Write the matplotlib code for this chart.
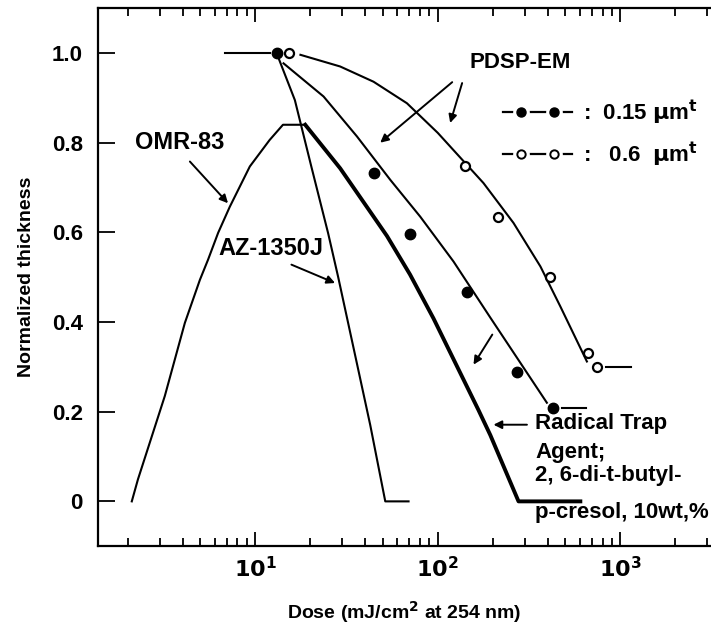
import matplotlib
matplotlib.use("Agg")
import matplotlib.pyplot as plt
from matplotlib.lines import Line2D
from matplotlib.legend_handler import HandlerLine2D, HandlerTuple
from matplotlib.ticker import LogLocator, NullFormatter, FixedLocator

plt.rcParams['font.family'] = ['Liberation Sans', 'DejaVu Sans']
plt.rcParams['font.weight'] = 'bold'
plt.rcParams['mathtext.default'] = 'bf'

# PDSP-EM 0.15 um (filled points + fitted curve)
thin_pts_x = [13.1, 44.5, 70.6, 144.5, 272, 428]
thin_pts_y = [1.0, 0.733, 0.597, 0.468, 0.288, 0.209]
thin_curve_x = [14.3, 23.7, 36.1, 55.0, 80.2, 122, 194, 396]
thin_curve_y = [0.977, 0.903, 0.814, 0.717, 0.635, 0.535, 0.410, 0.220]
thin_tail_x = [481, 651]
thin_tail_y = [0.209, 0.209]

# PDSP-EM 0.6 um (open points + fitted curve)
thick_pts_x = [15.4, 141.6, 215, 413, 662, 745]
thick_pts_y = [1.0, 0.748, 0.634, 0.50, 0.331, 0.30]
thick_curve_x = [17.7, 29.2, 44.5, 67.8, 100, 178, 260, 365, 469, 656]
thick_curve_y = [0.996, 0.97, 0.936, 0.888, 0.822, 0.710, 0.621, 0.524, 0.435, 0.312]
thick_tail_x = [830, 1150]
thick_tail_y = [0.30, 0.30]

# flat lead-in at 1.0
lead_x = [6.85, 12.1]
lead_y = [1.0, 1.0]

# AZ-1350J
az_x = [13.1, 16.5, 20.3, 25.1, 28.5, 36.6, 42.7, 51.6, 69.2]
az_y = [1.0, 0.895, 0.747, 0.598, 0.50, 0.296, 0.17, 0.0, 0.0]

# OMR-83
omr_x = [2.11, 2.28, 3.20, 4.12, 4.98, 5.52, 6.27, 7.26, 9.35, 12.0, 14.2, 18.8]
omr_y = [0.0, 0.049, 0.235, 0.398, 0.494, 0.539, 0.599, 0.657, 0.747, 0.806, 0.84, 0.84]

# OMR-83 + radical trap agent
rad_x = [18.8, 29.2, 52.7, 70.5, 94.8, 167, 194, 277, 604]
rad_y = [0.84, 0.743, 0.592, 0.506, 0.408, 0.204, 0.148, 0.0, 0.0]

yticks = [0, 0.2, 0.4, 0.6, 0.8, 1.0]
ytick_labels = ['0', '0.2', '0.4', '0.6', '0.8', '1.0']

fig = plt.figure(figsize=(7.11, 6.3), dpi=100)
ax = fig.add_axes([0.138, 0.133, 0.861, 0.854])

lw = 1.5
ax.plot(lead_x, lead_y, color='black', lw=lw)
ax.plot(thin_curve_x, thin_curve_y, color='black', lw=lw)
ax.plot(thin_tail_x, thin_tail_y, color='black', lw=lw)
ax.plot(thick_curve_x, thick_curve_y, color='black', lw=lw)
ax.plot(thick_tail_x, thick_tail_y, color='black', lw=lw)
ax.plot(az_x, az_y, color='black', lw=lw)
ax.plot(omr_x, omr_y, color='black', lw=lw)
ax.plot(rad_x, rad_y, color='black', lw=2.8)
ax.plot(thin_pts_x, thin_pts_y, 'o', color='black', ms=7.5)
ax.plot(thick_pts_x, thick_pts_y, 'o', mfc='white', mec='black', mew=1.6, ms=6.5)

ax.set_xscale('log')
ax.set_xlim(1.38, 3110)
ax.set_ylim(-0.1, 1.1)
ax.xaxis.set_major_locator(FixedLocator([10, 100, 1000]))
ax.set_xticklabels(['$10^1$', '$10^2$', '$10^3$'])
ax.xaxis.set_minor_locator(LogLocator(base=10, subs=range(2, 10)))
ax.xaxis.set_minor_formatter(NullFormatter())
ax.set_yticks(yticks)
ax.set_yticklabels(ytick_labels)
ax.spines['right'].set_visible(False)
for s in ['left', 'top', 'bottom']:
    ax.spines[s].set_linewidth(1.6)
ax.tick_params(axis='x', which='both', direction='in', top=True, bottom=True, width=1.3)
ax.tick_params(axis='x', which='major', length=10, pad=8, labelsize=16)
ax.tick_params(axis='x', which='minor', length=6)
ax.tick_params(axis='y', direction='in', length=12, width=1.3, pad=11, labelsize=16)

ax.set_xlabel('Dose (mJ/cm$^2$ at 254 nm)', fontsize=14, fontweight='bold', labelpad=12)
ax.set_ylabel('Normalized thickness', fontsize=14, fontweight='bold', labelpad=12)

arr = dict(arrowstyle='-|>', color='black', lw=1.4, mutation_scale=12, shrinkA=0, shrinkB=0)
ax.text(283, 0.978, 'PDSP-EM', fontsize=16, fontweight='bold', ha='center', va='center')
ax.annotate('', xy=(48.4, 0.80), xytext=(120, 0.935), arrowprops=arr)
ax.annotate('', xy=(117, 0.844), xytext=(136, 0.933), arrowprops=arr)
ax.text(3.88, 0.80, 'OMR-83', fontsize=17, fontweight='bold', ha='center', va='center')
ax.annotate('', xy=(7.1, 0.665), xytext=(4.39, 0.758), arrowprops=arr)
ax.text(12.2, 0.563, 'AZ-1350J', fontsize=17, fontweight='bold', ha='center', va='center')
ax.annotate('', xy=(27.4, 0.487), xytext=(15.8, 0.528), arrowprops=arr)
ax.annotate('', xy=(157, 0.305), xytext=(199, 0.372), arrowprops=arr)
ax.annotate('', xy=(202, 0.171), xytext=(308, 0.171), arrowprops=arr)
fs = 16
ax.text(342, 0.174, 'Radical Trap', fontsize=fs, fontweight='bold', ha='left', va='center')
ax.text(342, 0.109, 'Agent;', fontsize=fs, fontweight='bold', ha='left', va='center')
ax.text(342, 0.058, '2, 6-di-t-butyl-', fontsize=fs, fontweight='bold', ha='left', va='center')
ax.text(342, -0.025, 'p-cresol, 10wt,%', fontsize=fs, fontweight='bold', ha='left', va='center')

# legend samples "-o-o-": full line, white rings to break it, then the markers
def sample(filled):
    line = Line2D([], [], color='black', lw=1.6)
    gap = Line2D([], [], ls='none', marker='o', ms=11, mfc='white', mec='white')
    if filled:
        dot = Line2D([], [], ls='none', marker='o', ms=6.5, color='black')
    else:
        dot = Line2D([], [], ls='none', marker='o', ms=6, mfc='white', mec='black', mew=1.4)
    return line, gap, dot

s1 = sample(True)
s2 = sample(False)
hmap = {tuple: HandlerTuple(ndivide=1)}
for line, gap, dot in (s1, s2):
    hmap[line] = HandlerLine2D(numpoints=1)
    hmap[gap] = HandlerLine2D(numpoints=2, marker_pad=0.8)
    hmap[dot] = HandlerLine2D(numpoints=2, marker_pad=0.8)
leg = ax.legend([s1, s2], [r':  0.15 $\mu$m$^t$', r':   0.6  $\mu$m$^t$'],
                handler_map=hmap,
                loc='upper right', bbox_to_anchor=(1.012, 0.87), frameon=False,
                handlelength=3.1, handletextpad=0.5, labelspacing=0.6,
                prop={'size': 16, 'weight': 'bold'})

fig.savefig('out.png', dpi=100)
